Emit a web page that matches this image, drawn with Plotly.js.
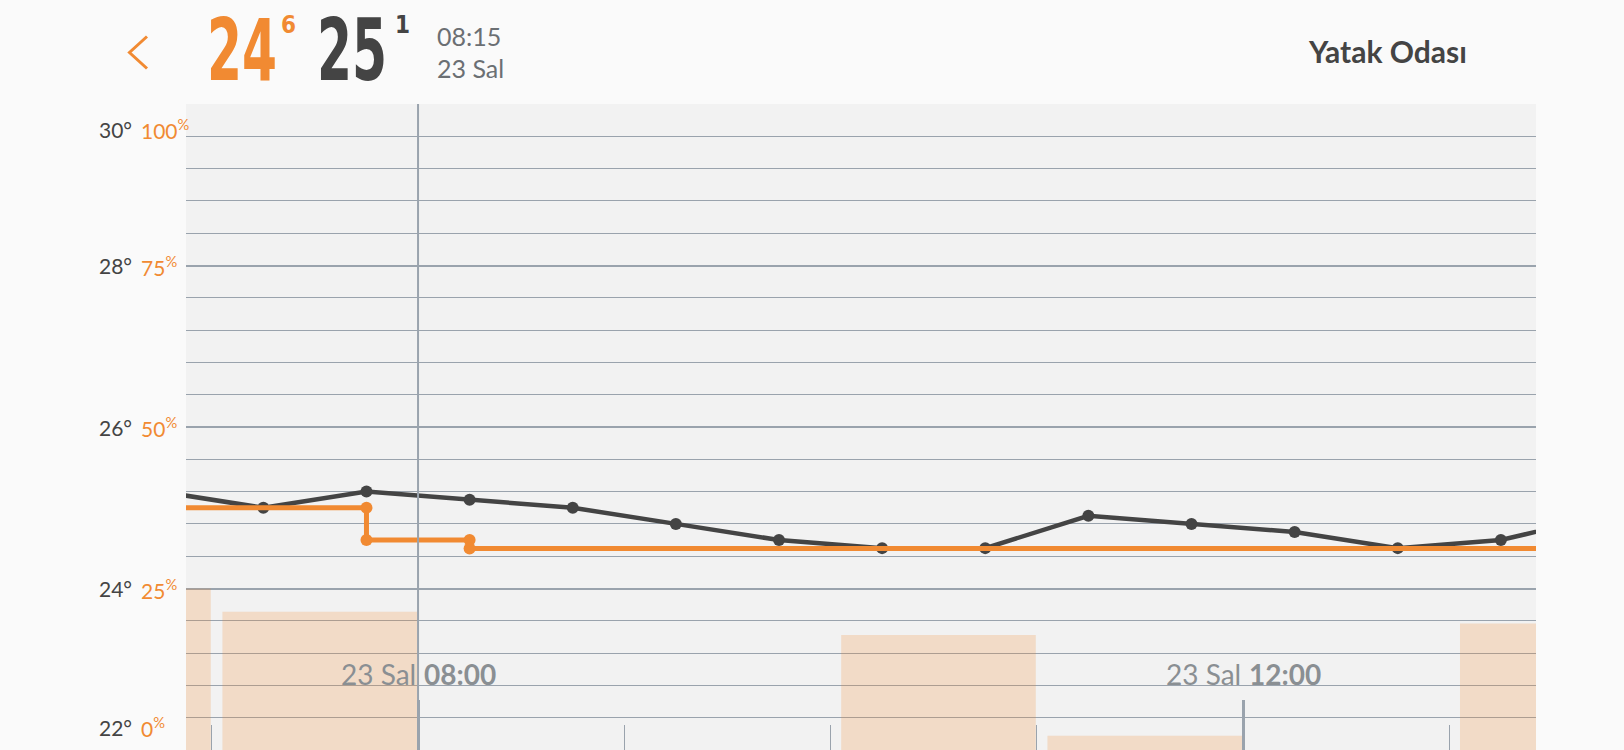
<!DOCTYPE html>
<html>
<head>
<meta charset="utf-8">
<script src="https://cdn.plot.ly/plotly-3.0.1.min.js"></script>
<style>
  html, body { margin: 0; padding: 0; background: #FAFAFA; overflow: hidden; }
  #chart { width: 1624px; height: 750px; }
</style>
</head>
<body>
<div id="chart"></div>
<script>
// ---------- DATA ----------
const day = '2024-01-23';
const tempTimes = ['06:45','07:15','07:45','08:15','08:45','09:15','09:45','10:15','10:45','11:15','11:45','12:15','12:45','13:15','13:45'];
const tempValues = [25.2, 25.0, 25.2, 25.1, 25.0, 24.8, 24.6, 24.5, 24.5, 24.9, 24.8, 24.7, 24.5, 24.6, 24.9];

const humTimes = ['06:45','07:45','08:15','13:45'];
const humValues = [37.5, 32.5, 31.2, 31.2];

const barHours = ['06:00','07:00','10:00','11:00','13:00'];
const barValues = [25, 21.4, 17.8, 2.2, 19.6];

const degLabels = [30, 28, 26, 24, 22];
const pctLabels = [100, 75, 50, 25, 0];

const xTickLabelTimes = ['08:00', '12:00'];
const xTickDayLabel = '23 Sal';
const cursorTime = '08:00';

const viewStart = '06:52:30';
const viewEnd = '13:25:13';

const headerTemp = '24', headerTempDec = '6';
const headerSet = '25', headerSetDec = '1';
const headerTime = '08:15', headerDay = '23 Sal';
const roomName = 'Yatak Odası';

// ---------- STYLE ----------
const ORANGE = '#F18A32';
const DARK = '#444444';
const GRID = '#9AA3AD';
const LABELGRAY = '#8A8F93';
const FONT = 'Lato, "Open Sans", sans-serif';
const W = 1624, H = 750, ML = 186, MR = 88, MT = 104, MB = 0;
const PW = W - ML - MR, PH = H - MT - MB;
const t = s => day + ' ' + s;
const px = x => (x - ML) / PW;
const py = y => (H - MB - y) / PH;

// humidity change markers (both ends of each step)
const hmX = [], hmY = [];
for (let i = 1; i < humTimes.length - 1; i++) {
  hmX.push(t(humTimes[i])); hmY.push(humValues[i - 1]);
  hmX.push(t(humTimes[i])); hmY.push(humValues[i]);
}

const traces = [
  {
    type: 'bar', x: barHours.map(t), y: barValues, yaxis: 'y2',
    offset: 3.1 * 60000, width: 56.6 * 60000,
    marker: { color: 'rgba(240,137,47,0.22)', line: { width: 0 } },
    hoverinfo: 'skip'
  },
  {
    type: 'scatter', mode: 'lines+markers', x: tempTimes.map(t), y: tempValues,
    line: { color: DARK, width: 4.5 }, marker: { color: DARK, size: 12 }
  },
  {
    type: 'scatter', mode: 'lines', x: humTimes.map(t), y: humValues, yaxis: 'y2',
    line: { color: ORANGE, width: 5, shape: 'hv' }
  },
  {
    type: 'scatter', mode: 'markers', x: hmX, y: hmY, yaxis: 'y2',
    marker: { color: ORANGE, size: 12 }
  }
];

const annotations = [];
// y labels
degLabels.forEach((v, i) => {
  const shift = (v === Math.max(...degLabels)) ? -25 : (v === Math.min(...degLabels)) ? 23 : 0;
  annotations.push({ xref: 'paper', yref: 'y', x: 0, y: v, xanchor: 'left', yanchor: 'middle',
    xshift: 97 - ML, yshift: shift, showarrow: false, text: v + '°',
    font: { family: FONT, size: 21, color: DARK } });
  annotations.push({ xref: 'paper', yref: 'y2', x: 0, y: pctLabels[i], xanchor: 'left', yanchor: 'middle',
    xshift: 139 - ML, yshift: shift, showarrow: false, text: pctLabels[i] + '<sup>%</sup>',
    font: { family: FONT, size: 21, color: ORANGE } });
});
// x labels
xTickLabelTimes.forEach(s => {
  annotations.push({ xref: 'x', yref: 'paper', x: t(s), y: 0, xanchor: 'right', yanchor: 'middle',
    xshift: 0, yshift: 76, showarrow: false, text: xTickDayLabel,
    font: { family: FONT, size: 28, color: LABELGRAY } });
  annotations.push({ xref: 'x', yref: 'paper', x: t(s), y: 0, xanchor: 'left', yanchor: 'middle',
    xshift: 4, yshift: 76, showarrow: false, text: '<b>' + s + '</b>',
    font: { family: FONT, size: 28, color: LABELGRAY } });
});
// header
const BIG = '"DejaVu Sans Condensed", "DejaVu Sans", sans-serif';
const bigIdx = [];
bigIdx.push(annotations.length);
annotations.push({ xref: 'paper', yref: 'paper', x: px(205), y: py(50), xanchor: 'left', yanchor: 'middle',
  showarrow: false, text: '<b>' + headerTemp + '</b>', font: { family: BIG, size: 86, color: ORANGE } });
annotations.push({ xref: 'paper', yref: 'paper', x: px(279), y: py(25), xanchor: 'left', yanchor: 'middle',
  showarrow: false, text: '<b>' + headerTempDec + '</b>', font: { family: BIG, size: 24, color: ORANGE } });
bigIdx.push(annotations.length);
annotations.push({ xref: 'paper', yref: 'paper', x: px(315), y: py(50), xanchor: 'left', yanchor: 'middle',
  showarrow: false, text: '<b>' + headerSet + '</b>', font: { family: BIG, size: 86, color: DARK } });
annotations.push({ xref: 'paper', yref: 'paper', x: px(393), y: py(25), xanchor: 'left', yanchor: 'middle',
  showarrow: false, text: '<b>' + headerSetDec + '</b>', font: { family: BIG, size: 24, color: DARK } });
annotations.push({ xref: 'paper', yref: 'paper', x: px(435), y: py(36), xanchor: 'left', yanchor: 'middle',
  showarrow: false, text: headerTime, font: { family: FONT, size: 25, color: '#6B6F73' } });
annotations.push({ xref: 'paper', yref: 'paper', x: px(435), y: py(68), xanchor: 'left', yanchor: 'middle',
  showarrow: false, text: headerDay, font: { family: FONT, size: 25, color: '#6B6F73' } });
annotations.push({ xref: 'paper', yref: 'paper', x: px(1469), y: py(51), xanchor: 'right', yanchor: 'middle',
  showarrow: false, text: '<b>' + roomName + '</b>', font: { family: FONT, size: 30, color: DARK } });

const shapes = [
  { type: 'line', xref: 'x', yref: 'paper', x0: t(cursorTime), x1: t(cursorTime), y0: 0, y1: 1,
    line: { color: GRID, width: 2 }, layer: 'above' },
  { type: 'path', xref: 'paper', yref: 'paper',
    path: `M ${px(147)} ${py(36.5)} L ${px(129.5)} ${py(52.5)} L ${px(147)} ${py(68.5)}`,
    line: { color: ORANGE, width: 3 } }
];

const layout = {
  width: W, height: H,
  margin: { l: ML, r: MR, t: MT, b: MB, pad: 0 },
  paper_bgcolor: '#FAFAFA', plot_bgcolor: '#F2F2F2',
  showlegend: false, barmode: 'overlay', hovermode: false,
  xaxis: {
    type: 'date', range: [t(viewStart), t(viewEnd)], showgrid: false, zeroline: false, showline: false,
    showticklabels: false, ticks: 'inside', ticklen: 50, tickwidth: 3, tickcolor: GRID,
    tick0: t('00:00'), dtick: 4 * 3600000,
    minor: { ticks: 'inside', ticklen: 25, tickwidth: 1, tickcolor: GRID, dtick: 3600000, tick0: t('00:00'), showgrid: false }
  },
  yaxis: {
    range: [22, 30], showticklabels: false, zeroline: false, showline: false, ticks: '',
    tick0: 22, dtick: 2, showgrid: true, gridcolor: GRID, gridwidth: 2,
    minor: { tick0: 22, dtick: 0.4, showgrid: true, gridcolor: GRID, gridwidth: 1 }
  },
  yaxis2: {
    range: [0, 100], overlaying: 'y', side: 'left', showgrid: false, zeroline: false,
    showticklabels: false, showline: false, ticks: ''
  },
  annotations: annotations,
  shapes: shapes
};

Plotly.newPlot('chart', traces, layout, { displayModeBar: false, staticPlot: true }).then(gd => {
  // squeeze the large header digits horizontally to mimic the narrow display font
  const TARGET_W = 70;
  bigIdx.forEach(idx => {
    const g = gd.querySelector('g.annotation[data-index="' + idx + '"]');
    if (!g) return;
    const txt = g.querySelector('text');
    if (!txt) return;
    const bb = txt.getBBox();
    if (!bb.width) return;
    const s = TARGET_W / bb.width;
    const prev = txt.getAttribute('transform') || '';
    txt.setAttribute('transform', prev + ` translate(${bb.x},0) scale(${s},1) translate(${-bb.x},0)`);
  });
});
</script>
</body>
</html>
